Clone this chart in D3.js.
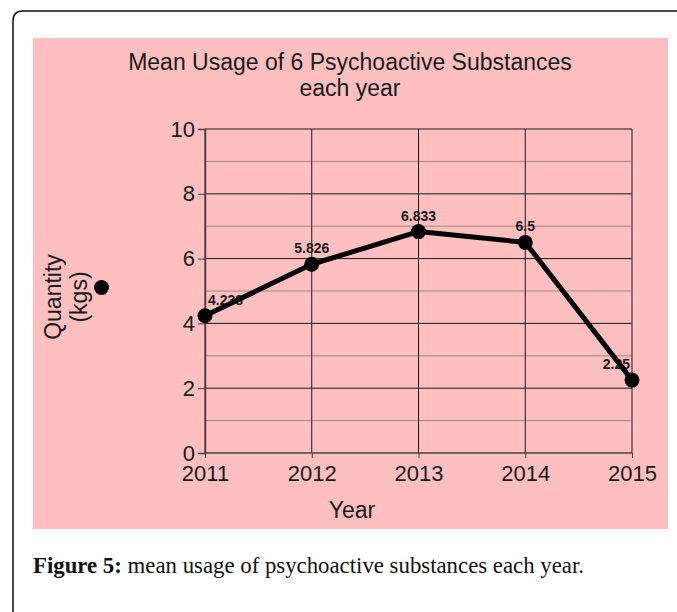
<!DOCTYPE html>
<html>
<head>
<meta charset="utf-8">
<script src="https://cdn.jsdelivr.net/npm/d3@7"></script>
<style>
  body { margin: 0; background: #fff; }
  svg { display: block; }
</style>
</head>
<body>
<div class="display"></div>
<script>
var years = [2011, 2012, 2013, 2014, 2015];
var quantities = [4.238, 5.826, 6.833, 6.5, 2.25];
var valueLabels = ["4.238", "5.826", "6.833", "6.5", "2.25"];
var yTicks = [0, 2, 4, 6, 8, 10];
var minorTicks = [1, 3, 5, 7, 9];

var width = 677, height = 612;
var plotLeft = 205, plotRight = 632, plotTop = 129, plotBottom = 453;
var sans = "Liberation Sans, Arial, sans-serif";

var svg = d3.select(".display")
  .append("svg")
  .attr("width", width)
  .attr("height", height);

// outer frame, only the top-left corner shows
svg.append("path")
  .attr("d", "M13,612 L13,21 Q13,11 23,11 L680,11")
  .attr("fill", "none")
  .attr("stroke", "#111")
  .attr("stroke-width", 1.5);

svg.append("rect")
  .attr("x", 33).attr("y", 38)
  .attr("width", 635).attr("height", 491)
  .attr("fill", "#fdbfbf");

var x = d3.scalePoint().domain(years).range([plotLeft, plotRight]);
var y = d3.scaleLinear().domain([0, 10]).range([plotBottom, plotTop]);

// minor gridlines
svg.selectAll(".minor")
  .data(minorTicks)
  .enter().append("line")
  .attr("x1", plotLeft).attr("x2", plotRight)
  .attr("y1", function(d) { return y(d); })
  .attr("y2", function(d) { return y(d); })
  .attr("stroke", "#a88484")
  .attr("stroke-width", 1);

// major gridlines
svg.selectAll(".major")
  .data(yTicks.filter(function(d) { return d > 0; }))
  .enter().append("line")
  .attr("x1", plotLeft).attr("x2", plotRight)
  .attr("y1", function(d) { return y(d); })
  .attr("y2", function(d) { return y(d); })
  .attr("stroke", "#1a1a1a")
  .attr("stroke-width", 1);

// vertical gridlines
svg.selectAll(".vgrid")
  .data(years)
  .enter().append("line")
  .attr("x1", function(d) { return x(d); })
  .attr("x2", function(d) { return x(d); })
  .attr("y1", plotTop).attr("y2", plotBottom)
  .attr("stroke", "#1a1a1a")
  .attr("stroke-width", 1);

var yAxis = svg.append("g")
  .attr("transform", "translate(" + plotLeft + ",0)")
  .call(d3.axisLeft(y).tickValues(yTicks).tickSize(7).tickPadding(3));

var xAxis = svg.append("g")
  .attr("transform", "translate(0," + plotBottom + ")")
  .call(d3.axisBottom(x).tickSize(5).tickPadding(7));

[yAxis, xAxis].forEach(function(g) {
  g.select(".domain").attr("stroke", "#4a4040").attr("stroke-width", 1.5);
  g.selectAll(".tick line").attr("stroke", "#4a4040");
  g.selectAll("text")
    .attr("fill", "#1a1a1a")
    .style("font-family", sans)
    .style("font-size", "22px");
});
xAxis.select(".domain").attr("d", "M" + plotLeft + ",0H" + plotRight);

// value labels sit under the line
svg.selectAll(".vlabel")
  .data(quantities)
  .enter().append("text")
  .attr("x", function(d, i) { return x(years[i]); })
  .attr("y", function(d) { return y(d) - 11; })
  .attr("dx", function(d, i) { return i === 0 ? 3 : (i === years.length - 1 ? -2 : 0); })
  .attr("text-anchor", function(d, i) { return i === 0 ? "start" : (i === years.length - 1 ? "end" : "middle"); })
  .style("font-family", sans)
  .style("font-size", "14px")
  .style("font-weight", "bold")
  .attr("fill", "#1a1a1a")
  .text(function(d, i) { return valueLabels[i]; });

var line = d3.line()
  .x(function(d, i) { return x(years[i]); })
  .y(function(d) { return y(d); });

svg.append("path")
  .datum(quantities)
  .attr("d", line)
  .attr("fill", "none")
  .attr("stroke", "#000")
  .attr("stroke-width", 5)
  .attr("stroke-linejoin", "round");

svg.selectAll(".dot")
  .data(quantities)
  .enter().append("circle")
  .attr("cx", function(d, i) { return x(years[i]); })
  .attr("cy", function(d) { return y(d); })
  .attr("r", 7.5)
  .attr("fill", "#000");

// title
svg.append("text")
  .attr("x", 350).attr("y", 70)
  .attr("text-anchor", "middle")
  .style("font-family", sans)
  .style("font-size", "23px")
  .attr("fill", "#1a1a1a")
  .text("Mean Usage of 6 Psychoactive Substances");
svg.append("text")
  .attr("x", 350).attr("y", 96)
  .attr("text-anchor", "middle")
  .style("font-family", sans)
  .style("font-size", "23px")
  .attr("fill", "#1a1a1a")
  .text("each year");

// y axis title and legend marker
var yTitle = svg.append("text")
  .attr("transform", "translate(61,297) rotate(-90)")
  .attr("text-anchor", "middle")
  .style("font-family", sans)
  .style("font-size", "23px")
  .attr("fill", "#1a1a1a");
yTitle.append("tspan").attr("x", 0).attr("y", 0).text("Quantity");
yTitle.append("tspan").attr("x", 0).attr("y", 26).text("(kgs)");

svg.append("circle")
  .attr("cx", 101.5).attr("cy", 287.5).attr("r", 7.5)
  .attr("fill", "#000");

svg.append("text")
  .attr("x", 352).attr("y", 518)
  .attr("text-anchor", "middle")
  .style("font-family", sans)
  .style("font-size", "23px")
  .attr("fill", "#1a1a1a")
  .text("Year");

// caption
var caption = svg.append("text")
  .attr("x", 33).attr("y", 573)
  .style("font-family", "Liberation Serif, DejaVu Serif, serif")
  .style("font-size", "22.8px")
  .attr("fill", "#111");
caption.append("tspan").style("font-weight", "bold").text("Figure 5:");
caption.append("tspan").text(" mean usage of psychoactive substances each year.");
</script>
</body>
</html>
